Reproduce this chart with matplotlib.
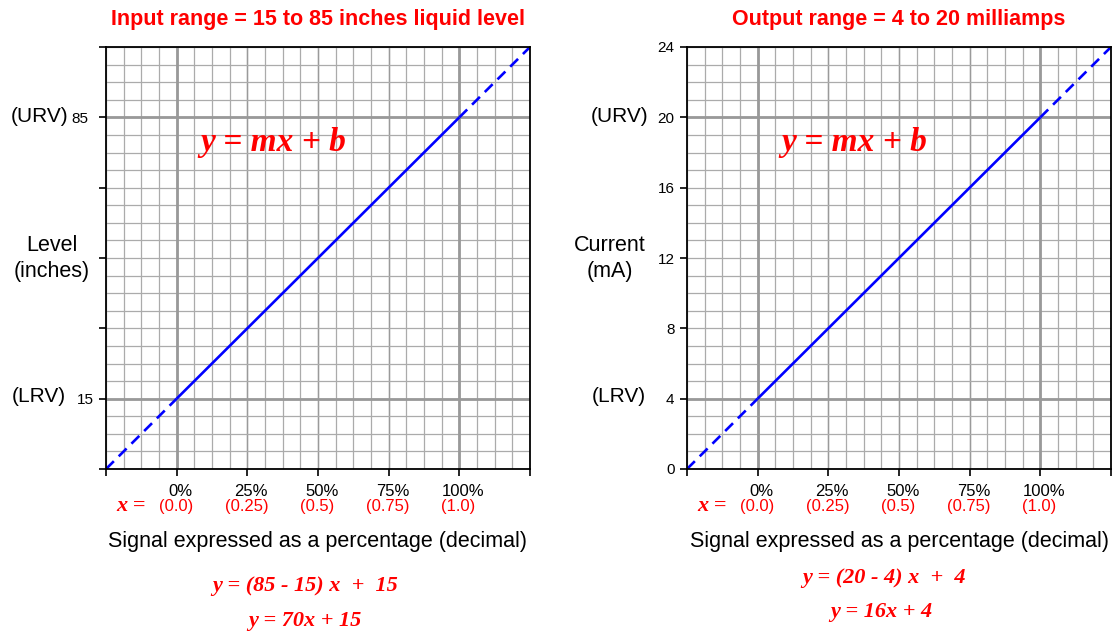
import matplotlib
matplotlib.use("Agg")
import matplotlib.pyplot as plt
import numpy as np
from matplotlib.transforms import ScaledTranslation, blended_transform_factory

# ---- data ----
input_lrv, input_urv = 15, 85
output_lrv, output_urv = 4, 20
x_pct = [0.0, 0.25, 0.5, 0.75, 1.0]
pct_labels = ["0%", "25%", "50%", "75%", "100%"]
dec_labels = ["(0.0)", "(0.25)", "(0.5)", "(0.75)", "(1.0)"]
x_ext = [-0.25, 1.25]
panel_titles = ["Input range = 15 to 85 inches liquid level", "Output range = 4 to 20 milliamps"]
axis_names = [["Level", "(inches)"], ["Current", "(mA)"]]
eq_lines = [["y = (85 - 15) x  +  15", "y = 70x + 15"],
            ["y = (20 - 4) x  +  4", "y = 16x + 4"]]

W, H = 1116, 631
fig = plt.figure(figsize=(W / 100, H / 100), dpi=100)
SANS = "Liberation Sans"
SERIF = "Liberation Serif"
RED = "#ff0000"
BLUE = "#0000ff"


def fx(px):
    return px / W


def fy(py):
    return 1 - py / H


def make_panel(left_px, lrv, urv, ytick_step, ylabels_all, title, yname, eqs, eq_pos, name_cx):
    right_px = left_px + 424
    ax = fig.add_axes([fx(left_px), fy(469), (right_px - left_px) / W, (469 - 47) / H])
    span = urv - lrv
    y0 = lrv - 0.25 * span
    y1 = urv + 0.25 * span
    ax.set_xlim(x_ext[0], x_ext[1])
    ax.set_ylim(y0, y1)

    # grid
    for xv in np.arange(-0.25, 1.25 + 1e-9, 1 / 16):
        ax.axvline(xv, color="#ababab", lw=0.9, zorder=1)
    for xv in [0.25, 0.5, 0.75]:
        ax.axvline(xv, color="#9a9a9a", lw=1.0, zorder=1)
    for yv in np.arange(y0, y1 + 1e-9, span / 16):
        ax.axhline(yv, color="#ababab", lw=0.9, zorder=1)
    for xv in [0.0, 1.0]:
        ax.axvline(xv, color="#999999", lw=2.0, zorder=2)
    for yv in [lrv, urv]:
        ax.axhline(yv, color="#999999", lw=2.0, zorder=2)

    # transfer line
    xs_solid = np.array([0.0, 1.0])
    ax.plot(xs_solid, span * xs_solid + lrv, color=BLUE, lw=1.9, zorder=5, solid_capstyle="butt")
    for xs in (np.array([x_ext[0], 0.0]), np.array([1.0, x_ext[1]])):
        ax.plot(xs, span * xs + lrv, color=BLUE, lw=1.9, ls=(0, (4.2, 2.6)), zorder=5,
                dash_capstyle="butt")

    for s in ax.spines.values():
        s.set_color("black")
        s.set_linewidth(1.3)
        s.set_zorder(6)

    # x ticks (labels drawn as text below)
    xt = [x_ext[0]] + x_pct + [x_ext[1]]
    ax.set_xticks(xt)
    ax.set_xticklabels([""] * len(xt))
    ax.tick_params(axis="x", direction="out", length=5, width=1.2)

    # y ticks
    yt = np.arange(y0, y1 + 1e-9, ytick_step)
    ax.set_yticks(yt)
    ax.set_yticklabels(ylabels_all, fontsize=11, family=SANS)
    ax.tick_params(axis="y", direction="out", length=5, width=1.2, pad=4)

    trans_x = blended_transform_factory(ax.transData, fig.transFigure)
    for xv, pl, dl in zip(x_pct, pct_labels, dec_labels):
        fig.text(xv, fy(491), pl, fontsize=12, color="black", family=SANS, ha="center", va="center",
                 transform=trans_x + ScaledTranslation(4 / 100, 0, fig.dpi_scale_trans))
        fig.text(xv, fy(507), dl, fontsize=12, color=RED, family=SANS, ha="center", va="center",
                 transform=trans_x + ScaledTranslation(-1 / 100, 0, fig.dpi_scale_trans))

    fig.text(fx(left_px + 25), fy(506), "x =", fontsize=16, color=RED, family=SERIF,
             style="italic", weight="bold", ha="center", va="center")

    fig.text(fx((left_px + right_px) / 2), fy(20), title, fontsize=15.5, color=RED, family=SANS,
             weight="bold", ha="center", va="center")
    fig.text(fx(left_px + 167), fy(143), "y = mx + b", fontsize=24, color=RED, family=SERIF,
             style="italic", weight="bold", ha="center", va="center")
    fig.text(fx(name_cx), fy(245), yname[0], fontsize=15.5, color="black", family=SANS,
             ha="center", va="center")
    fig.text(fx(name_cx), fy(272), yname[1], fontsize=15.5, color="black", family=SANS,
             ha="center", va="center")
    fig.text(fx((left_px + right_px) / 2), fy(542), "Signal expressed as a percentage (decimal)",
             fontsize=15.5, color="black", family=SANS, ha="center", va="center")
    for (cx, cy), e in zip(eq_pos, eqs):
        fig.text(fx(cx), fy(cy), e, fontsize=16, color=RED, family=SERIF, style="italic",
                 weight="bold", ha="center", va="center")
    return ax


axL = make_panel(106, input_lrv, input_urv, 17.5,
                 ["", "15", "", "", "", "85", ""], panel_titles[0], axis_names[0],
                 eq_lines[0], [(305, 586), (305, 621)], 52)
lab85 = axL.get_yticklabels()[5]
lab85.set_transform(lab85.get_transform() + ScaledTranslation(-5 / 100, 0, fig.dpi_scale_trans))
fig.text(fx(68), fy(116), "(URV)", fontsize=15, family=SANS, ha="right", va="center")
fig.text(fx(66), fy(396), "(LRV)", fontsize=15, family=SANS, ha="right", va="center")

axR = make_panel(687, output_lrv, output_urv, 4,
                 ["0", "4", "8", "12", "16", "20", "24"], panel_titles[1], axis_names[1],
                 eq_lines[1], [(884, 578), (881, 612)], 610)
fig.text(fx(648), fy(116), "(URV)", fontsize=15, family=SANS, ha="right", va="center")
fig.text(fx(646), fy(396), "(LRV)", fontsize=15, family=SANS, ha="right", va="center")

fig.savefig("out.png", dpi=100)
